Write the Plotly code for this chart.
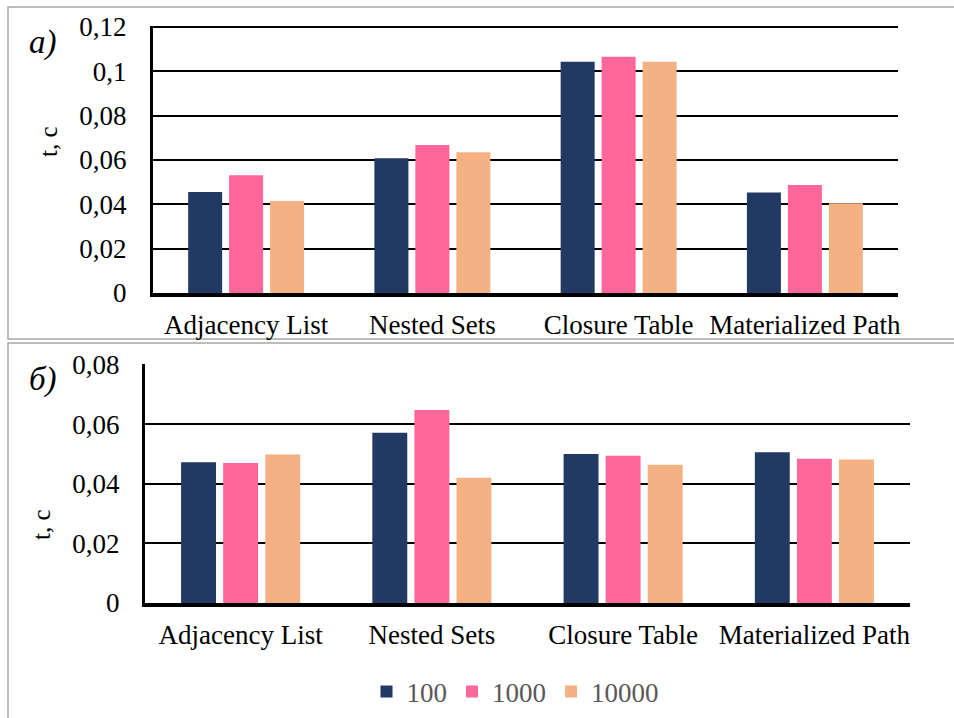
import plotly.graph_objects as go

# Query execution time for four tree storage models
categories = ["Adjacency List", "Nested Sets", "Closure Table", "Materialized Path"]
series_names = ["100", "1000", "10000"]

# panel а)
times_a_100 = [0.0456, 0.0608, 0.1043, 0.0453]
times_a_1000 = [0.0531, 0.0668, 0.1066, 0.0487]
times_a_10000 = [0.0415, 0.0635, 0.1043, 0.0405]

# panel б)
times_b_100 = [0.0473, 0.0572, 0.0501, 0.0507]
times_b_1000 = [0.0471, 0.0649, 0.0495, 0.0485]
times_b_10000 = [0.0499, 0.0421, 0.0465, 0.0482]

ticks_a = [0, 0.02, 0.04, 0.06, 0.08, 0.1, 0.12]
ticktext_a = ["0", "0,02", "0,04", "0,06", "0,08", "0,1", "0,12"]
ticks_b = [0, 0.02, 0.04, 0.06, 0.08]
ticktext_b = ["0", "0,02", "0,04", "0,06", "0,08"]

colors = ["#213963", "#FF6699", "#F4B183"]
FONT = "Liberation Serif"

W, H = 954, 718
PAD = 1.004  # small headroom so the top grid line stays visible


def px_x(x):
    return x / W


def px_y(y):
    return (H - y) / H


fig = go.Figure()

for name, vals, col in zip(series_names, [times_a_100, times_a_1000, times_a_10000], colors):
    fig.add_trace(go.Bar(x=categories, y=vals, name=name, marker=dict(color=col, line=dict(width=0)),
                         xaxis="x", yaxis="y", showlegend=False))

for name, vals, col in zip(series_names, [times_b_100, times_b_1000, times_b_10000], colors):
    fig.add_trace(go.Bar(x=categories, y=vals, name=name, marker=dict(color=col, line=dict(width=0)),
                         xaxis="x2", yaxis="y2", showlegend=True))

common_x = dict(
    type="category", showgrid=False, zeroline=False, showline=True, linecolor="black",
    linewidth=4, ticks="", tickfont=dict(family=FONT, size=27, color="black"),
    ticklabelstandoff=5, fixedrange=True, automargin=False,
)
common_y = dict(
    showgrid=True, gridcolor="black", gridwidth=2, zeroline=False, showline=True,
    linecolor="black", linewidth=3, ticks="", tickfont=dict(family=FONT, size=27, color="black"),
    fixedrange=True, automargin=False,
)

# pixel positions of the value axes
a_zero, a_top = 293, 27
b_zero, b_top = 603, 365
a_dom_top = a_zero - (a_zero - a_top) * PAD
b_dom_top = b_zero - (b_zero - b_top) * PAD

fig.update_layout(
    template="none",
    width=W, height=H,
    margin=dict(l=0, r=0, t=0, b=0, autoexpand=False),
    paper_bgcolor="white", plot_bgcolor="white",
    barmode="group", bargap=0.34, bargroupgap=0.17,
    font=dict(family=FONT, color="black"),
    xaxis=dict(common_x, domain=[px_x(153), px_x(898)], anchor="y"),
    yaxis=dict(common_y, domain=[px_y(a_zero), px_y(a_dom_top)], range=[0, 0.12 * PAD], anchor="x",
               tickvals=ticks_a, ticktext=ticktext_a, ticklabelstandoff=18),
    xaxis2=dict(common_x, domain=[px_x(145), px_x(910)], anchor="y2"),
    yaxis2=dict(common_y, domain=[px_y(b_zero), px_y(b_dom_top)], range=[0, 0.08 * PAD], anchor="x2",
                tickvals=ticks_b, ticktext=ticktext_b, ticklabelstandoff=17),
    legend=dict(orientation="h", x=px_x(515), xanchor="center", y=px_y(692), yanchor="middle",
                font=dict(family=FONT, size=27, color="#595959"), bgcolor="rgba(0,0,0,0)",
                itemwidth=30, traceorder="normal"),
    shapes=[
        dict(type="rect", xref="paper", yref="paper", x0=px_x(8), x1=1.02, y0=px_y(339), y1=px_y(7),
             line=dict(color="#A6A6A6", width=1.5), layer="below"),
        dict(type="rect", xref="paper", yref="paper", x0=px_x(8), x1=1.02, y0=-0.02, y1=px_y(343),
             line=dict(color="#A6A6A6", width=1.5), layer="below"),
    ],
    annotations=[
        dict(text="<i>а)</i>", xref="paper", yref="paper", x=px_x(43), y=px_y(43), xanchor="center",
             yanchor="middle", showarrow=False, font=dict(family=FONT, size=33, color="black")),
        dict(text="<i>б)</i>", xref="paper", yref="paper", x=px_x(43), y=px_y(379), xanchor="center",
             yanchor="middle", showarrow=False, font=dict(family=FONT, size=33, color="black")),
        dict(text="t, c", xref="paper", yref="paper", x=px_x(48), y=px_y(142), textangle=-90,
             xanchor="center", yanchor="middle", showarrow=False,
             font=dict(family=FONT, size=25, color="black")),
        dict(text="t, c", xref="paper", yref="paper", x=px_x(41), y=px_y(525), textangle=-90,
             xanchor="center", yanchor="middle", showarrow=False,
             font=dict(family=FONT, size=25, color="black")),
    ],
)

fig.write_html("out.html")
